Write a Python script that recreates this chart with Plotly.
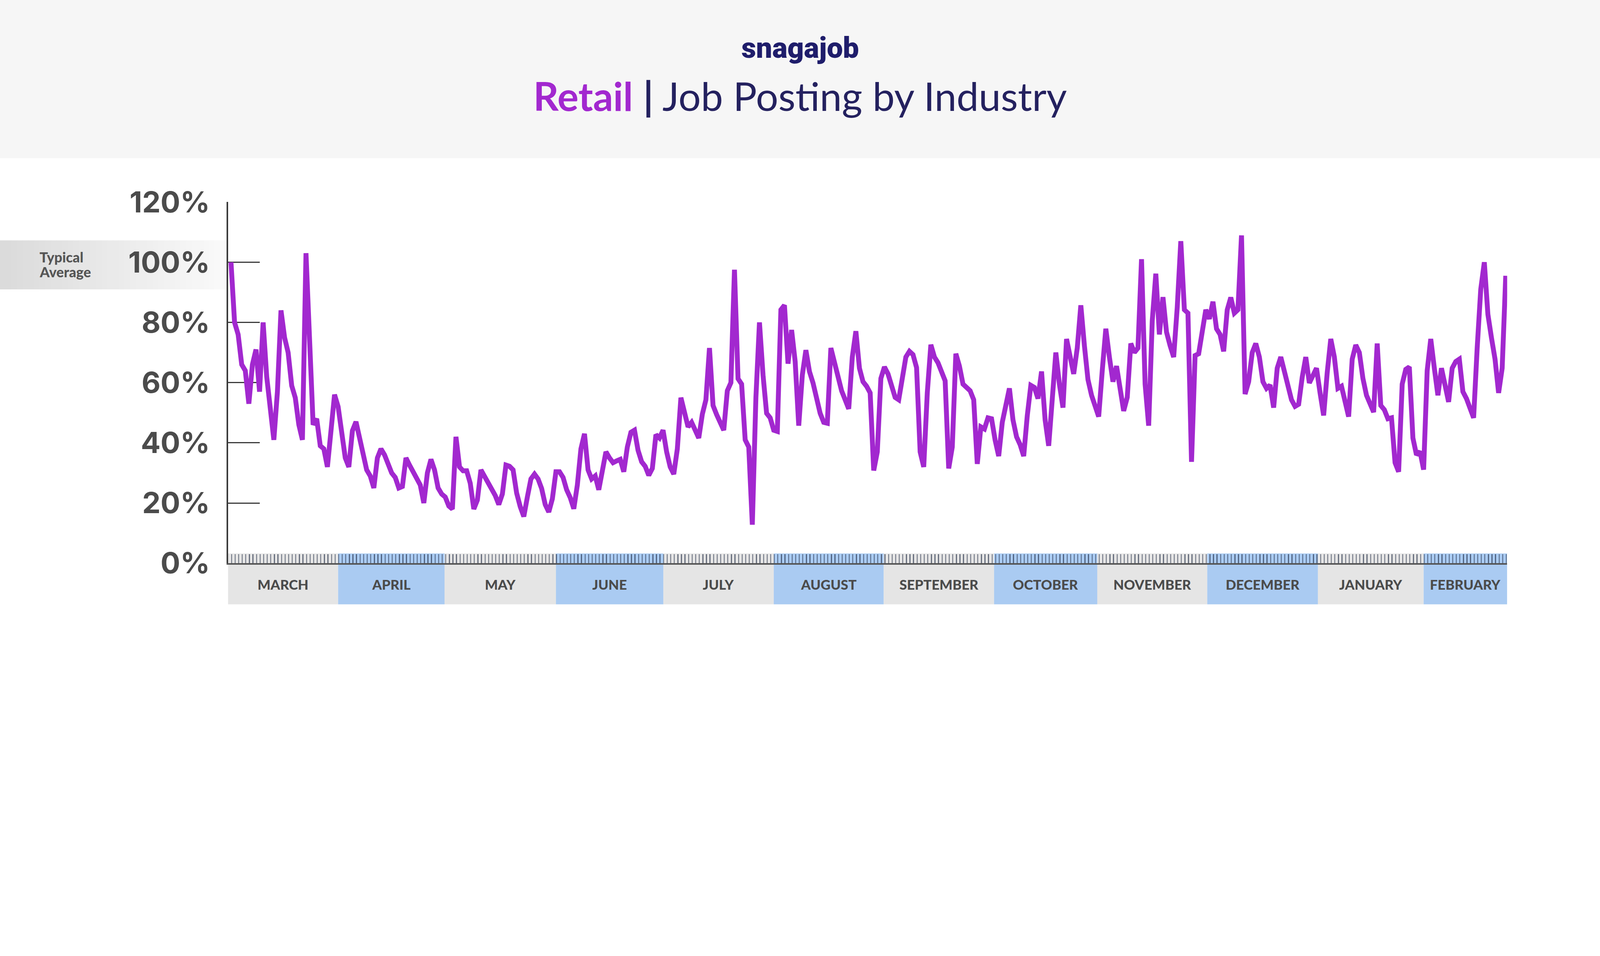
import plotly.graph_objects as go

# daily retail job postings, % of the typical average (day 0 = first of March)
postings = [
    100, 80, 76, 66, 64, 53, 66, 71, 57, 80, 62, 52, 41, 57, 84, 75, 70, 59, 55, 46,
    41, 103, 78, 46, 48, 39, 38, 32, 44, 56, 52, 44, 35, 32, 44, 47, 42, 37, 31, 29,
    25, 35, 38, 36, 33, 30, 28.5, 25, 25.5, 35, 32.6, 30.4, 28, 26, 20, 30, 34.5, 31, 25, 23,
    22, 19, 18, 42, 32, 30.7, 30.7, 26.6, 18, 21, 31, 29, 26.6, 24.4, 22.5, 19.5, 23, 32.6, 32.2, 31,
    23.3, 18.8, 15.5, 22, 28, 29.6, 28, 24.8, 19.5, 17, 21.4, 30.4, 30.4, 28.5, 24.4, 21.8, 18.1, 26, 38, 43,
    31, 28, 29, 24.4, 31, 37, 35, 33.4, 34, 34.5, 30.4, 38.6, 43.5, 44.2, 37.5, 33.7, 32.2, 29.2, 31.5, 42.7,
    41.6, 44.2, 37, 32, 29.6, 38, 55, 49.5, 45.3, 46.8, 44.2, 41.6, 49.5, 54.3, 71.5, 52.4, 49.4, 46.8, 44.2, 57.3,
    60, 97.5, 61.3, 59.5, 41, 38.6, 12.8, 55, 80, 62.5, 49.8, 48.3, 44.2, 43.8, 84.2, 85.7, 66.3, 77.5, 67, 45.7,
    62.5, 70.8, 63.7, 59.9, 55.1, 49.8, 46.8, 46.5, 71.5, 66.3, 62.2, 57.3, 54.3, 51.3, 68.5, 77.1, 64.8, 60.3, 58.8, 56.6,
    30.8, 37, 61.4, 65.2, 62.9, 58.8, 55.1, 54.3, 61, 68.5, 70.4, 69.3, 65, 37, 32, 56.6, 72.6, 68.5, 66.6, 64,
    60.6, 31.5, 38.6, 69.6, 65.5, 59.5, 58.4, 57.3, 54.3, 33, 45.3, 44.6, 48.3, 48, 40.9, 35.6, 46.8, 53.6, 58.1, 47.6,
    42, 39.4, 35.6, 49, 59.1, 58.4, 54.7, 63.7, 47.6, 39, 54.3, 70, 59.5, 51.7, 74.5, 68.5, 62.9, 71.5, 85.7, 72.3,
    61, 55.8, 52.1, 48.7, 64, 77.9, 68.5, 60.3, 65.5, 58.1, 50.6, 55.1, 73, 70, 71.5, 101, 59.5, 45.7, 80.5, 96.2,
    76, 88.4, 76.8, 72.3, 68.5, 85, 107, 84.2, 83.1, 33.7, 69, 69.6, 77.5, 84.2, 81.2, 86.9, 77.9, 76, 70.4, 84.2,
    88.3, 83.1, 84.2, 108.9, 56.2, 60.3, 70, 73, 68.5, 60.3, 58.1, 59.2, 51.7, 64.8, 68.5, 64, 58.8, 54.3, 52.1, 52.8,
    61.8, 68.5, 59.9, 62.2, 64.8, 56.6, 49.1, 63.3, 74.5, 68.5, 58.1, 58.8, 54.3, 48.7, 67.8, 72.5, 70, 61.4, 55.8, 52.4,
    50.2, 73, 52.4, 51, 48, 48.3, 33.4, 30.4, 59.5, 64.4, 65.2, 41.6, 36, 37.1, 31.1, 64, 74.5, 64.8, 55.8, 64.8,
    59.2, 53.6, 64.8, 67, 67.8, 57, 54.7, 51.3, 48.3, 71.5, 91, 100, 82.7, 74.9, 67.8, 56.6, 64.8, 95.5,
]
days = list(range(len(postings)))

month_names = ["MARCH", "APRIL", "MAY", "JUNE", "JULY", "AUGUST", "SEPTEMBER",
               "OCTOBER", "NOVEMBER", "DECEMBER", "JANUARY", "FEBRUARY"]
# day on which each month band starts (as drawn in the picture)
month_starts = [-0.85, 30.0, 59.8, 91.0, 121.1, 152.0, 182.8, 213.7, 242.6, 273.4, 304.4, 334.0]
axis_end = 357.4

y_ticks = [0, 20, 40, 60, 80, 100, 120]

# page geometry (pixels)
W, H = 5257, 2448
L, R, T, B = 749, 4952, 664, 1851
PW, PH = R - L, B - T


def px(xpix):
    return (xpix - L) / PW


def py(ypix):
    return (B - ypix) / PH


PURPLE = "#a228cf"
NAVY = "#24215f"
GREY_TXT = "#4b4b4b"

fig = go.Figure()
fig.add_trace(go.Scatter(x=days, y=postings, mode="lines",
                         line=dict(color=PURPLE, width=16),
                         hoverinfo="skip", showlegend=False))

shapes = []
# grey header band
shapes.append(dict(type="rect", xref="paper", yref="paper",
                   x0=px(-20), x1=px(W + 20), y0=py(520), y1=py(-20),
                   fillcolor="#f6f6f6", line=dict(width=0), layer="below"))

# "Typical Average" fading band
steps = 40
for i in range(steps):
    c = int(219 + (250 - 219) * i / (steps - 1))
    shapes.append(dict(type="rect", xref="paper", yref="paper",
                       x0=px(742 * i / steps), x1=px(742 * (i + 1) / steps + 1),
                       y0=py(951), y1=py(790),
                       fillcolor=f"rgb({c},{c},{c})", line=dict(width=0), layer="below"))

# month bands under the axis
annotations = []
edges = month_starts + [axis_end]
for i, name in enumerate(month_names):
    col = "#e5e5e5" if i % 2 == 0 else "#aacbf2"
    shapes.append(dict(type="rect", xref="x", yref="paper",
                       x0=edges[i], x1=edges[i + 1], y0=py(1986), y1=py(1819),
                       fillcolor=col, line=dict(width=0), layer="below"))
    annotations.append(dict(x=(edges[i] + edges[i + 1]) / 2, y=py(1921),
                            xref="x", yref="paper", text=name, showarrow=False,
                            xanchor="center", yanchor="middle",
                            font=dict(family="Lato", size=45, color=GREY_TXT, weight=900)))

annotations.append(dict(x=px(W / 2), y=py(158), xref="paper", yref="paper",
                        text="snagajob", showarrow=False,
                        xanchor="center", yanchor="middle",
                        font=dict(family="Roboto", size=94, color="#1f1d6b", weight=900)))
annotations.append(dict(x=px(W / 2), y=py(315), xref="paper", yref="paper",
                        text=f'<span style="color:{PURPLE}"><b>Retail</b></span> <b>|</b> Job Posting by Industry',
                        showarrow=False, xanchor="center", yanchor="middle",
                        font=dict(family="Lato", size=130, color=NAVY)))
annotations.append(dict(x=px(128), y=py(845), xref="paper", yref="paper",
                        text="Typical", showarrow=False, xanchor="left", yanchor="middle",
                        font=dict(family="Lato", size=46, color="#555555", weight=900)))
annotations.append(dict(x=px(128), y=py(893), xref="paper", yref="paper",
                        text="Average", showarrow=False, xanchor="left", yanchor="middle",
                        font=dict(family="Lato", size=46, color="#555555", weight=900)))

fig.update_layout(
    width=W, height=H, autosize=False,
    margin=dict(l=L, r=W - R, t=T, b=H - B, pad=0),
    paper_bgcolor="white", plot_bgcolor="rgba(0,0,0,0)",
    shapes=shapes, annotations=annotations, showlegend=False,
    xaxis=dict(range=[month_starts[0], axis_end], showgrid=False, zeroline=False,
               showline=True, linecolor="#555555", linewidth=5,
               ticks="inside", ticklen=30, tickwidth=3, tickcolor="rgba(25,35,60,0.62)",
               tick0=month_starts[0], dtick=1, showticklabels=False,
               layer="above traces", fixedrange=True),
    yaxis=dict(range=[0, 120], showgrid=False, zeroline=False,
               showline=True, linecolor="#3a3a3a", linewidth=4,
               tickvals=y_ticks, ticktext=[f"{v}%" for v in y_ticks],
               ticks="inside", ticklen=104, tickwidth=4, tickcolor="#3a3a3a",
               tickfont=dict(family="Inter", size=96, color=GREY_TXT, weight=700),
               ticklabelstandoff=36, layer="below traces", fixedrange=True),
)

# the page may have fewer CSS pixels than the window has device pixels:
# shrink the figure so that it exactly fills the visible width
fit_js = """
var gd = document.getElementById('{plot_id}');
document.body.style.margin = '0';
document.documentElement.style.overflow = 'hidden';
document.body.style.overflow = 'hidden';
var k = document.documentElement.clientWidth / %d;
gd.style.transformOrigin = '0 0';
gd.style.transform = 'scale(' + k + ')';
""" % W

fig.write_html("out.html", post_script=fit_js, config={"displayModeBar": False})
